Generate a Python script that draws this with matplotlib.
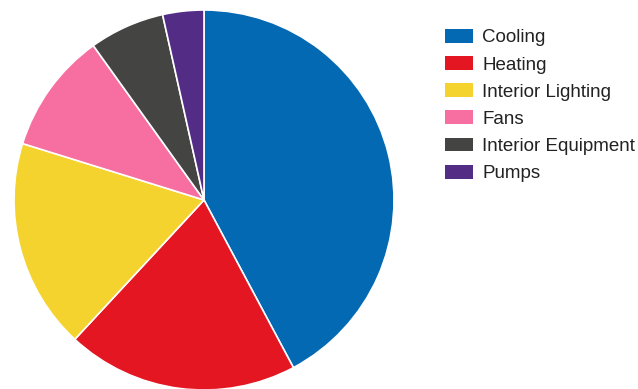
import matplotlib
matplotlib.use("Agg")
import matplotlib.pyplot as plt
from matplotlib.patches import Patch

categories = ["Cooling", "Heating", "Interior Lighting", "Fans", "Interior Equipment", "Pumps"]
values = [42.2, 19.7, 17.9, 10.3, 6.4, 3.5]
colors = ["#0469B3", "#E31622", "#F5D32F", "#F76FA0", "#444543", "#532C85"]

plt.rcParams['font.family'] = ['Liberation Sans', 'DejaVu Sans']

W, H = 638, 389
fig = plt.figure(figsize=(W / 100, H / 100), dpi=100)
cx, cy, r = 204, 200, 190
ax = fig.add_axes([(cx - r) / W, (H - cy - r) / H, 2 * r / W, 2 * r / H])
ax.pie(values, colors=colors, startangle=90, counterclock=False, radius=1,
       wedgeprops=dict(edgecolor="white", linewidth=1.2))
ax.set_xlim(-1, 1)
ax.set_ylim(-1, 1)
ax.set_aspect("equal")
ax.axis("off")

handles = [Patch(facecolor=c, edgecolor="none") for c in colors]
leg = fig.legend(handles, categories, loc="upper left",
           bbox_to_anchor=(445 / W, 1 - 29 / H), frameon=False,
           fontsize=13.5, handlelength=1.49, handleheight=0.75,
           handletextpad=0.5, labelspacing=0.52, borderpad=0, borderaxespad=0)
for t in leg.get_texts():
    t.set_color("#222222")

fig.savefig("out.png", dpi=100)
